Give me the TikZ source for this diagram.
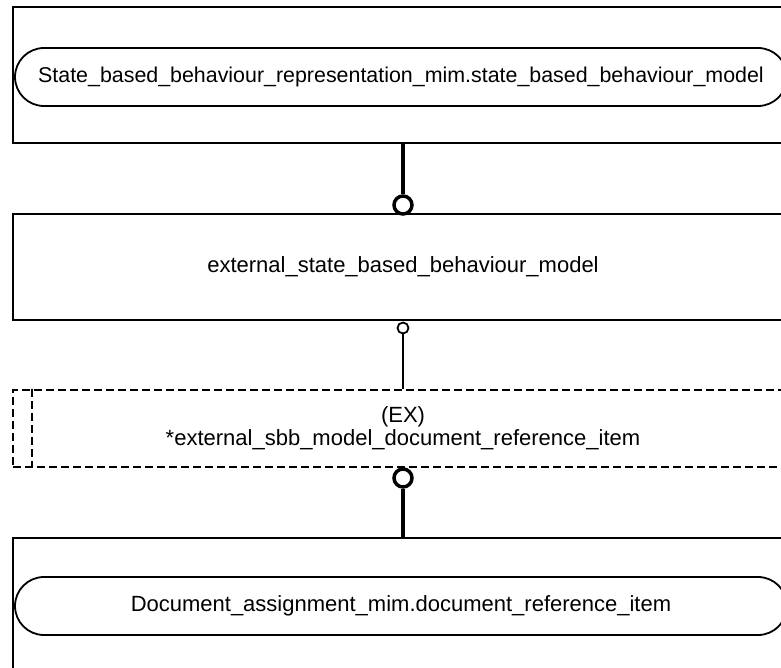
\documentclass[tikz,border=0pt]{standalone}
\usepackage{fontspec}
\setmainfont{Liberation Sans}
\newcommand\diagfont{\fontsize{22}{23}\selectfont}
\newcommand\topfont{\fontsize{21.4}{23}\selectfont}
\begin{document}
\begin{tikzpicture}[x=1pt,y=-1pt,
  box/.style={draw, line width=1.8pt, rectangle, inner sep=0pt, minimum width=780pt, font=\diagfont, align=center},
  pill/.style={draw, line width=1.8pt, rounded corners=29pt, minimum width=772pt, minimum height=58pt, inner sep=0pt, font=\diagfont},
  dashbox/.style={box, dash pattern=on 8pt off 4pt},
  bigring/.style={circle, draw, line width=3.5pt, minimum size=18pt, inner sep=0pt, fill=white},
  smallring/.style={circle, draw, line width=1.8pt, minimum size=11pt, inner sep=0pt, fill=white},
  thickline/.style={line width=4pt},
  thinline/.style={line width=1.8pt}]
\useasboundingbox (0,0) rectangle (781,668);
% boxes
\node[box, minimum height=136pt] (b1) at (403,75) {};
\node[pill, font=\topfont] (p1) at (401,77) {State\_based\_behaviour\_representation\_mim.state\_based\_behaviour\_model};
\node[box, minimum height=106pt] (b2) at (403,267) {external\_state\_based\_behaviour\_model};
\node[dashbox, minimum height=77pt] (b3) at (403,428.5) {(EX)\\*external\_sbb\_model\_document\_reference\_item};
\draw[line width=1.8pt, dash pattern=on 8pt off 4pt] ([xshift=20pt]b3.north west) -- ([xshift=20pt]b3.south west);
\node[box, minimum height=136pt] (b4) at (403,606) {};
\node[pill] (p4) at (401,606) {Document\_assignment\_mim.document\_reference\_item};
% connectors
\node[bigring] (c1) at (403,205) {};
\draw[thickline] (b1.south) -- (c1.north);
\node[smallring] (c2) at (403,328) {};
\draw[thinline] (b3.north) -- (c2.south);
\node[bigring] (c3) at (403,478) {};
\draw[thickline] (b4.north) -- (c3.south);
\end{tikzpicture}
\end{document}
